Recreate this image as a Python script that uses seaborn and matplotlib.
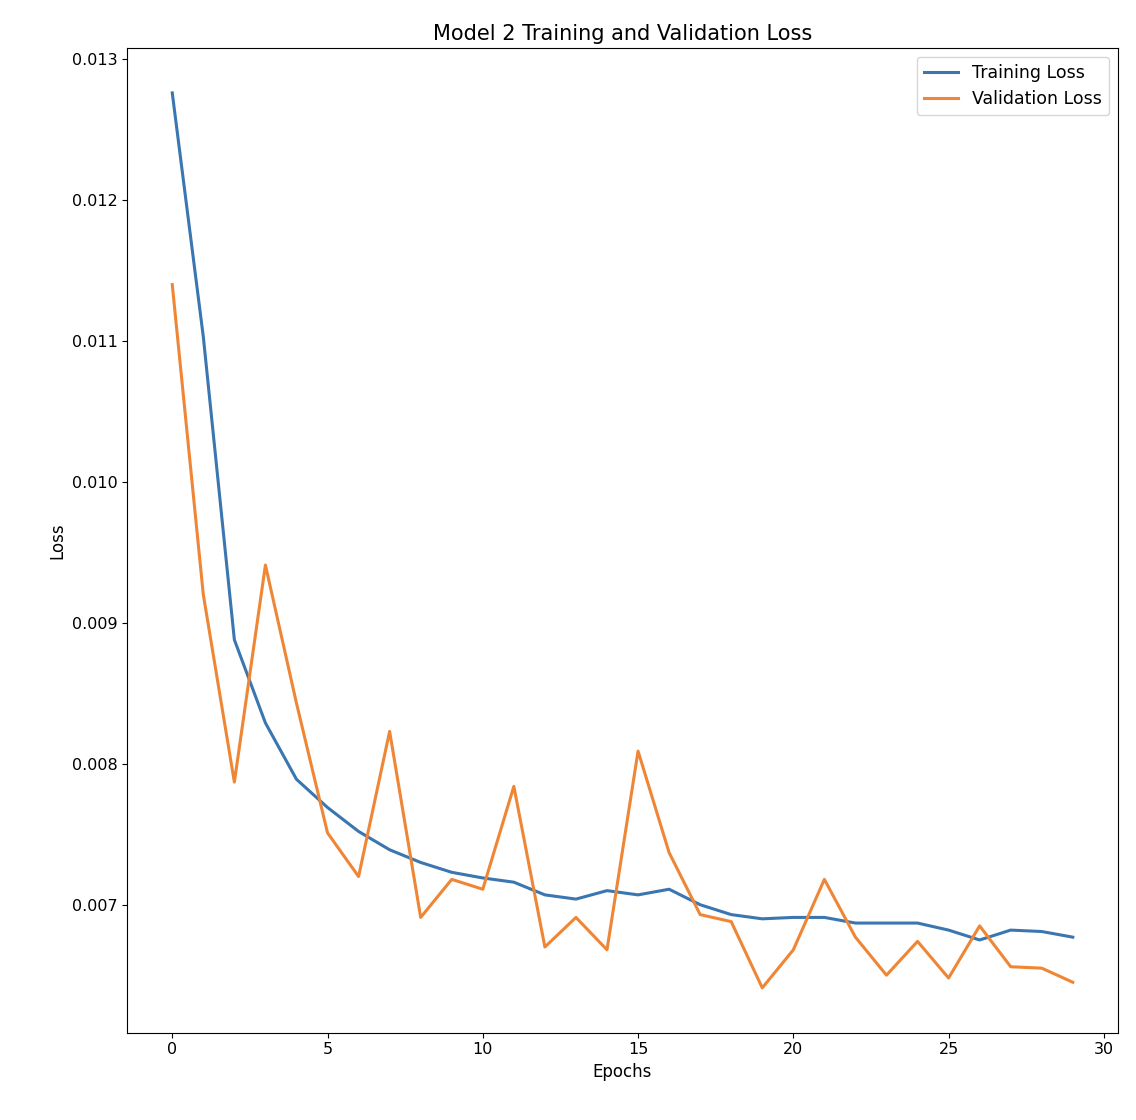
import matplotlib
matplotlib.use("Agg")
import matplotlib.pyplot as plt
import seaborn as sns
import pandas as pd

epochs = list(range(30))
train_loss = [0.01276, 0.01103, 0.00888, 0.00829, 0.00789, 0.00769, 0.00752, 0.00739, 0.00730, 0.00723,
              0.00719, 0.00716, 0.00707, 0.00704, 0.00710, 0.00707, 0.00711, 0.00700, 0.00693, 0.00690,
              0.00691, 0.00691, 0.00687, 0.00687, 0.00687, 0.00682, 0.00675, 0.00682, 0.00681, 0.00677]
val_loss = [0.01140, 0.00920, 0.00787, 0.00941, 0.00843, 0.00751, 0.00720, 0.00823, 0.00691, 0.00718,
            0.00711, 0.00784, 0.00670, 0.00691, 0.00668, 0.00809, 0.00737, 0.00693, 0.00688, 0.00641,
            0.00668, 0.00718, 0.00677, 0.00650, 0.00674, 0.00648, 0.00685, 0.00656, 0.00655, 0.00645]

df = pd.DataFrame({"epoch": epochs * 2,
                   "loss": train_loss + val_loss,
                   "series": ["Training Loss"] * 30 + ["Validation Loss"] * 30})

fig, ax = plt.subplots(figsize=(11.36, 11.2), dpi=100)
sns.lineplot(data=df, x="epoch", y="loss", hue="series",
             palette=["#3a76af", "#ef8636"], linewidth=2.2, ax=ax)
ax.set_title("Model 2 Training and Validation Loss", fontsize=15)
ax.set_xlabel("Epochs", fontsize=12)
ax.set_ylabel("Loss", fontsize=12)
ax.tick_params(labelsize=11.5)
ax.legend(title=None, fontsize=12.5)
plt.subplots_adjust(left=0.112, right=0.984, top=0.957, bottom=0.078)
plt.savefig("out.png")
